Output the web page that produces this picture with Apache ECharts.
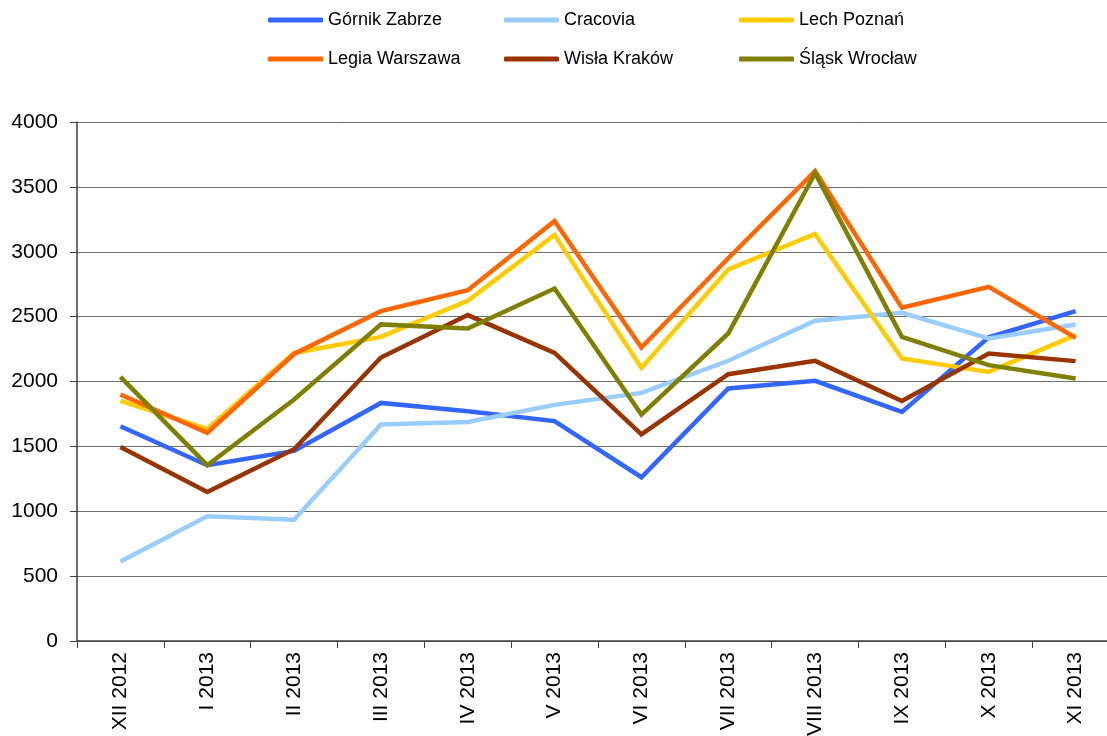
<!DOCTYPE html>
<html>
<head>
<meta charset="utf-8">
<script src="https://cdn.jsdelivr.net/npm/echarts@6/dist/echarts.min.js"></script>
<style>
    html, body { margin: 0; padding: 0; background: #fff; overflow: hidden; }
    /* wykres ucięty z prawej jak w oryginale */
    #chart { width: 1120px; height: 736px; }
</style>
</head>
<body>
<div id="chart"></div>
<script>
// Frekwencja - średnia liczba widzów w miesiącu
const months = ['XII 2012', 'I 2013', 'II 2013', 'III 2013', 'IV 2013', 'V 2013',
                'VI 2013', 'VII 2013', 'VIII 2013', 'IX 2013', 'X 2013', 'XI 2013'];

const gornik = [1655, 1355, 1465, 1835, 1770, 1695, 1262, 1946, 2005, 1765, 2340, 2542];
const cracovia = [613, 961, 935, 1668, 1688, 1820, 1912, 2160, 2468, 2530, 2332, 2440];
const lech = [1850, 1635, 2220, 2344, 2622, 3130, 2105, 2864, 3137, 2177, 2074, 2357];
const legia = [1900, 1605, 2212, 2542, 2704, 3237, 2262, 2950, 3622, 2568, 2730, 2337];
const wisla = [1496, 1148, 1478, 2185, 2512, 2221, 1593, 2056, 2159, 1850, 2216, 2157];
const slask = [2036, 1355, 1861, 2440, 2409, 2717, 1745, 2370, 3605, 2344, 2126, 2023];

const yTicks = { min: 0, max: 4000, interval: 500 };

const teams = [
    { name: 'Górnik Zabrze', data: gornik, color: '#3366ff' },
    { name: 'Cracovia', data: cracovia, color: '#99ccff' },
    { name: 'Lech Poznań', data: lech, color: '#ffcc00' },
    { name: 'Legia Warszawa', data: legia, color: '#ff6600' },
    { name: 'Wisła Kraków', data: wisla, color: '#993300' },
    { name: 'Śląsk Wrocław', data: slask, color: '#808000' },
];

const font = 'Liberation Sans, Arial, sans-serif';

// legenda: 3 kolumny x 2 wiersze, każda pozycja osobno
const legendCols = [268, 504, 739];
const legendRows = [11, 50];
const legends = teams.map((t, i) => ({
    data: [t.name],
    left: legendCols[i % 3],
    top: legendRows[Math.floor(i / 3)],
    padding: 0,
    icon: 'roundRect',
    itemWidth: 55,
    itemHeight: 5,
    itemGap: 5,
    textStyle: { fontFamily: font, fontSize: 18, color: '#000' },
}));

const chart = echarts.init(document.getElementById('chart'));
chart.setOption({
    animation: false,
    backgroundColor: '#fff',
    legend: legends,
    grid: {
        left: 77, top: 122, width: 1042, height: 519,
        containLabel: false, outerBoundsMode: 'none',
    },
    xAxis: {
        type: 'category',
        data: months,
        boundaryGap: true,
        axisLine: { lineStyle: { color: '#404040', width: 1.5 } },
        axisTick: { show: true, interval: 0, length: 7, lineStyle: { color: '#404040' } },
        axisLabel: {
            interval: 0, rotate: 90, margin: 11,
            fontFamily: font, fontSize: 21, color: '#000',
        },
        splitLine: { show: false },
    },
    yAxis: {
        type: 'value',
        min: yTicks.min, max: yTicks.max, interval: yTicks.interval,
        axisLine: { show: true, lineStyle: { color: '#404040', width: 1.5 } },
        axisTick: { show: true, length: 7, lineStyle: { color: '#404040' } },
        axisLabel: {
            margin: 19, fontFamily: font, fontSize: 21, color: '#000',
            formatter: v => String(v),
        },
        splitLine: { show: true, lineStyle: { color: '#6e6e6e', width: 1 } },
    },
    series: teams.map(t => ({
        name: t.name,
        type: 'line',
        data: t.data,
        symbol: 'none',
        color: t.color,
        lineStyle: { width: 4.5, color: t.color, join: 'miter' },
    })),
});
</script>
</body>
</html>
